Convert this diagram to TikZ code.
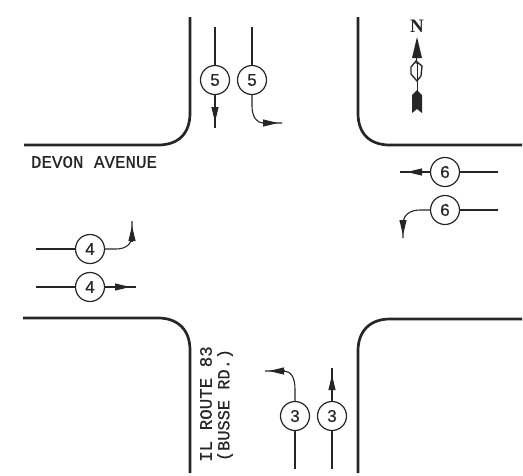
\documentclass[tikz,border=0pt]{standalone}
\usepackage{fontspec}
\setmainfont[FakeBold=0.5]{Liberation Sans}
\newfontfamily\cadfont[FakeBold=0.5]{Liberation Mono}
\newfontfamily\northfont{Liberation Serif}
\usetikzlibrary{arrows.meta}
\definecolor{ink}{HTML}{262626}
\tikzset{
  curb/.style={draw=ink,line width=2.7pt},
  lane/.style={draw=ink,line width=1.1pt},
  headed/.style={draw=ink,line width=1.1pt,-{Triangle[length=15pt,width=7pt]}},
  phase/.style={circle,draw=ink,line width=1.2pt,minimum size=29pt,inner sep=0pt,text=ink,font=\fontsize{17}{17}\selectfont},
  roadtext/.style={text=ink,inner sep=0pt,font=\cadfont\fontsize{17.5}{17.5}\selectfont}
}
\begin{document}
\begin{tikzpicture}[x=1pt,y=-1pt]
\useasboundingbox (0,0) rectangle (523,475);
% curbs
\draw[curb] (190,17) -- (190,113) .. controls (190,134) and (178,145) .. (158,145) -- (24,145);
\draw[curb] (358,17) -- (358,113) .. controls (358,134) and (370,145) .. (390,145) -- (522,145);
\draw[curb] (23,318) -- (158,318) .. controls (178,318) and (190,330) .. (190,350) -- (190,473);
\draw[curb] (522,319) -- (390,319) .. controls (370,319) and (358,331) .. (358,351) -- (358,473);
% phase circles
\node[phase] (fiveA) at (215,80) {5};
\node[phase] (fiveB) at (252,80) {5};
\node[phase] (threeA) at (295,416) {3};
\node[phase] (threeB) at (332,416) {3};
\node[phase] (fourA) at (90,249) {4};
\node[phase] (fourB) at (90,287) {4};
\node[phase] (sixA) at (445,172) {6};
\node[phase] (sixB) at (445,210) {6};
% free ends and arrowhead bases/tips
\coordinate (fiveAin) at (215,27);
\coordinate (fiveAb) at (215,107);
\coordinate (fiveAh) at (215,122);
\coordinate (fiveAend) at (215,128);
\coordinate (fiveBin) at (252,27);
\coordinate (fiveBb) at (263,123);
\coordinate (fiveBh) at (278,123);
\coordinate (fiveBend) at (282,123);
\coordinate (threeAin) at (295,469);
\coordinate (threeAb) at (284,371);
\coordinate (threeAh) at (269,371);
\coordinate (threeAend) at (265,371);
\coordinate (threeBin) at (332,469);
\coordinate (threeBb) at (332,390);
\coordinate (threeBh) at (332,375);
\coordinate (threeBend) at (332,368);
\coordinate (fourAin) at (36,249);
\coordinate (fourAb) at (132,241);
\coordinate (fourAh) at (132,226);
\coordinate (fourAend) at (132,221);
\coordinate (fourBin) at (36,287);
\coordinate (fourBb) at (115,287);
\coordinate (fourBh) at (130,287);
\coordinate (fourBend) at (136,287);
\coordinate (sixAin) at (498,172);
\coordinate (sixAb) at (422,172);
\coordinate (sixAh) at (407,172);
\coordinate (sixAend) at (400,172);
\coordinate (sixBin) at (498,210);
\coordinate (sixBb) at (403,220);
\coordinate (sixBh) at (403,235);
\coordinate (sixBend) at (403,238);
% connectors
\draw[lane] (fiveAin) -- (fiveA);
\draw[lane] (fiveA) -- (fiveAend);
\draw[headed] (fiveAb) -- (fiveAh);
\draw[lane] (fiveBin) -- (fiveB);
\draw[lane] (fiveB.south) -- (252,106) .. controls (252,117) and (257,123) .. (fiveBb) -- (fiveBend);
\draw[headed] (fiveBb) -- (fiveBh);
\draw[lane] (threeAin) -- (threeA);
\draw[lane] (threeA.north) -- (295,389) .. controls (295,378) and (291,371) .. (threeAb) -- (threeAend);
\draw[headed] (threeAb) -- (threeAh);
\draw[lane] (threeBin) -- (threeB);
\draw[lane] (threeB) -- (threeBend);
\draw[headed] (threeBb) -- (threeBh);
\draw[lane] (fourAin) -- (fourA);
\draw[lane] (fourA.east) -- (116,249) .. controls (126,249) and (132,244) .. (132,235) -- (fourAend);
\draw[headed] (fourAb) -- (fourAh);
\draw[lane] (fourBin) -- (fourB);
\draw[lane] (fourB) -- (fourBend);
\draw[headed] (fourBb) -- (fourBh);
\draw[lane] (sixAin) -- (sixA);
\draw[lane] (sixA) -- (sixAend);
\draw[headed] (sixAb) -- (sixAh);
\draw[lane] (sixBin) -- (sixB);
\draw[lane] (sixB.west) -- (420,210) .. controls (410,210) and (403,215) .. (403,224) -- (sixBend);
\draw[headed] (sixBb) -- (sixBh);
% labels
\node[roadtext] (devon) at (94,162) {DEVON AVENUE};
\node[roadtext,rotate=90] (route) at (206,404) {IL ROUTE 83};
\node[roadtext,rotate=90,font=\cadfont\fontsize{17}{17}\selectfont] (busse) at (225,405) {(BUSSE RD.)};
% north arrow
\node[text=ink,inner sep=0pt,font=\northfont\bfseries\fontsize{19}{19}\selectfont] (north) at (417,26) {N};
\draw[ink,line width=1pt] (417,56) -- (416,64);
\fill[ink] (417,37) -- (422,58) -- (412,58) -- cycle;
\draw[ink,line width=1.3pt] (416,61) -- (422,66) -- (421,76) -- (417,81) -- (411,74) -- (411,67) -- cycle;
\draw[ink,line width=0.9pt] (417,63) -- (417,80);
\draw[ink,line width=1pt] (417,81) -- (417,92);
\fill[ink] (412,113) -- (412,95) -- (417,90) -- (422,95) -- (422,113) -- (417,109) -- cycle;
\end{tikzpicture}
\end{document}
